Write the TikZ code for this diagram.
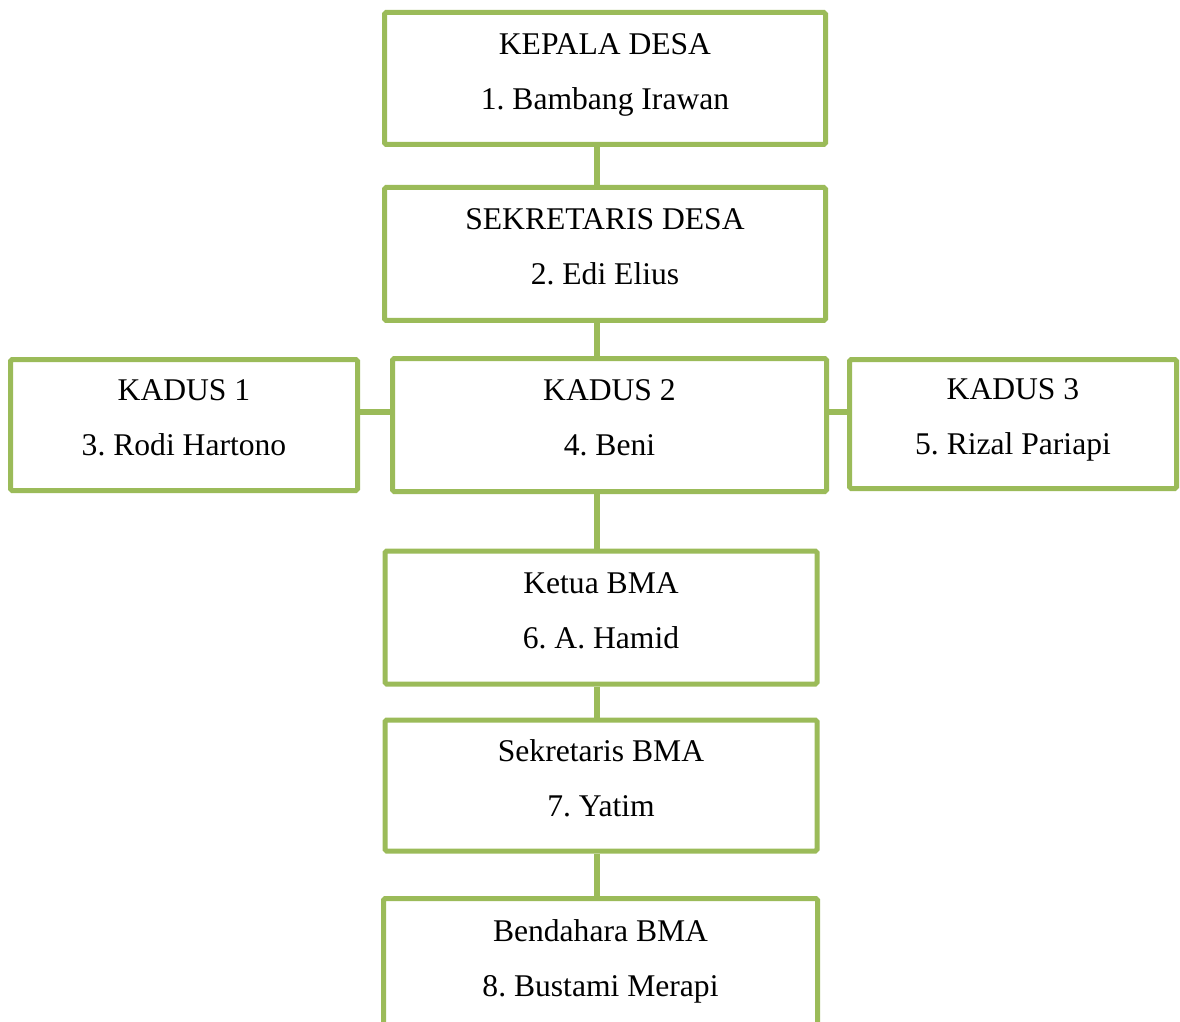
\documentclass[tikz,border=0pt]{standalone}
\usepackage{fontspec}
\setmainfont{Liberation Serif}
\definecolor{leafgreen}{RGB}{155,187,89}
\begin{document}
\frenchspacing
\begin{tikzpicture}[x=0.5pt, y=-0.5pt,
  orgbox/.style={draw=leafgreen, line width=2.5pt, rectangle, rounded corners=0.8pt, fill=white, align=center,
    font=\fontsize{15.8}{27.5}\selectfont, text depth=7pt, inner sep=0pt},
  orgline/.style={draw=leafgreen, line width=2.8pt}]
\useasboundingbox (0,0) rectangle (1180,1022);
\coordinate (spine) at (597,0);
\coordinate (mid) at (0,412);
\node[orgbox, minimum width=220.5pt, minimum height=66pt] (kades) at (605,78.5){KEPALA DESA\\1. Bambang Irawan};
\node[orgbox, minimum width=220.5pt, minimum height=66.5pt] (sekdes) at (605,254){SEKRETARIS DESA\\2. Edi Elius};
\node[orgbox, minimum width=173.5pt, minimum height=65.5pt] (kadus1) at (184,425){KADUS 1\\3. Rodi Hartono};
\node[orgbox, minimum width=217pt, minimum height=66.5pt] (kadus2) at (609.5,425){KADUS 2\\4. Beni};
\node[orgbox, minimum width=163.5pt, minimum height=64.5pt] (kadus3) at (1013,424){KADUS 3\\5. Rizal Pariapi};
\node[orgbox, minimum width=216pt, minimum height=66.5pt] (ketua) at (601,617.5){Ketua BMA\\6. A. Hamid};
\node[orgbox, minimum width=216pt, minimum height=65.5pt] (sekbma) at (601,785.5){Sekretaris BMA\\7. Yatim};
\node[orgbox, minimum width=217pt, minimum height=66.5pt] (bendbma) at (600.5,965){Bendahara BMA\\8. Bustami Merapi};
\draw[orgline](kades.south -| spine) -- (sekdes.north -| spine);
\draw[orgline](sekdes.south -| spine) -- (kadus2.north -| spine);
\draw[orgline](kadus1.east |- mid) -- (kadus2.west |- mid);
\draw[orgline](kadus2.east |- mid) -- (kadus3.west |- mid);
\draw[orgline](kadus2.south -| spine) -- (ketua.north -| spine);
\draw[orgline](ketua.south -| spine) -- (sekbma.north -| spine);
\draw[orgline](sekbma.south -| spine) -- (bendbma.north -| spine);
\end{tikzpicture}
\end{document}
